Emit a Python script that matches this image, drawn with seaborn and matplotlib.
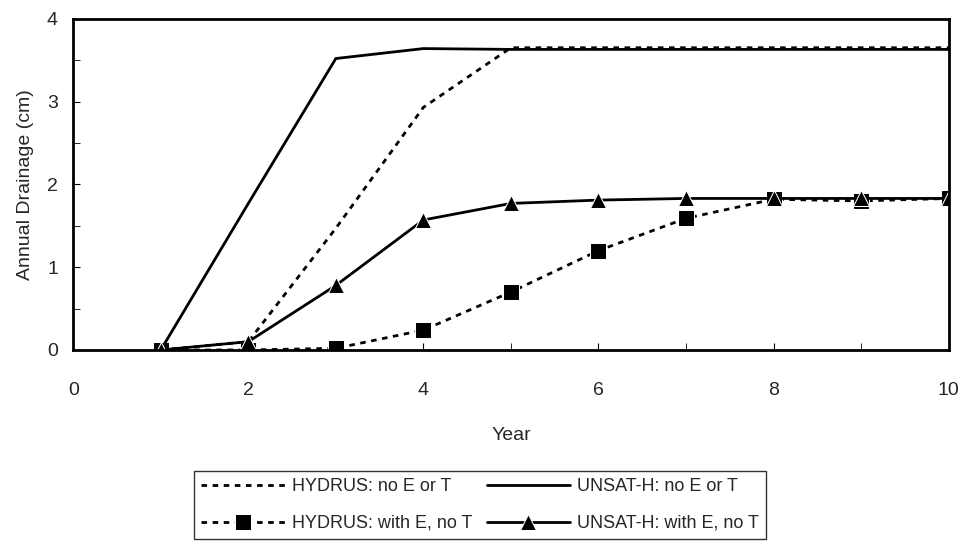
import pandas as pd
import matplotlib.pyplot as plt
import seaborn as sns
from matplotlib.ticker import MultipleLocator

years = [1, 2, 3, 4, 5, 6, 7, 8, 9, 10]
hydrus_no_et = [0.0, 0.10, 1.47, 2.93, 3.65, 3.65, 3.65, 3.65, 3.65, 3.65]
unsath_no_et = [0.0, 1.77, 3.52, 3.64, 3.63, 3.63, 3.63, 3.63, 3.63, 3.63]
hydrus_with_e = [0.0, 0.0, 0.02, 0.24, 0.70, 1.20, 1.59, 1.82, 1.80, 1.83]
unsath_with_e = [0.0, 0.10, 0.78, 1.57, 1.77, 1.81, 1.83, 1.83, 1.83, 1.83]

sns.set_style('ticks')
plt.rcParams['font.family'] = ['Liberation Sans', 'DejaVu Sans']
fs = 14

fig, ax = plt.subplots(figsize=(9.64, 5.52), dpi=100)

dots = (0, (2, 2))
sns.lineplot(x=years, y=hydrus_no_et, ax=ax, color='black', lw=2, linestyle=dots,
             label='HYDRUS: no E or T')
sns.lineplot(x=years, y=hydrus_with_e, ax=ax, color='black', lw=2, linestyle=dots,
             marker='s', markersize=11, label='HYDRUS: with E, no T')
sns.lineplot(x=years, y=unsath_no_et, ax=ax, color='black', lw=2,
             label='UNSAT-H: no E or T')
sns.lineplot(x=years, y=unsath_with_e, ax=ax, color='black', lw=2,
             marker='^', markersize=11, label='UNSAT-H: with E, no T')

ax.set_xlim(0, 10)
ax.set_ylim(0, 4)
ax.xaxis.set_major_locator(MultipleLocator(2))
ax.xaxis.set_minor_locator(MultipleLocator(1))
ax.yaxis.set_major_locator(MultipleLocator(1))
ax.yaxis.set_minor_locator(MultipleLocator(0.5))
ax.tick_params(which='both', direction='in', labelsize=fs, color='black', length=5)
ax.tick_params(axis='x', which='both', pad=23)
ax.tick_params(axis='y', which='both', pad=11)
for s in ax.spines.values():
    s.set_linewidth(2)
    s.set_color('black')
ax.set_xlabel('Year', fontsize=fs, labelpad=20)
ax.set_ylabel('Annual Drainage (cm)', fontsize=fs, labelpad=9)

handles, labels = ax.get_legend_handles_labels()
ax.get_legend().remove()
leg = fig.legend(handles, labels, loc='upper center', bbox_to_anchor=(0.498, 0.147),
                 bbox_transform=fig.transFigure, ncol=2, fontsize=13,
                 frameon=True, fancybox=False, edgecolor='black', handlelength=4.6,
                 columnspacing=0.8, borderpad=0.4, labelspacing=1.1, handletextpad=0.4,
                 borderaxespad=0)
leg.get_frame().set_linewidth(1)

fig.subplots_adjust(left=0.076, right=0.984, top=0.966, bottom=0.366)
fig.savefig('out.png', dpi=100)
